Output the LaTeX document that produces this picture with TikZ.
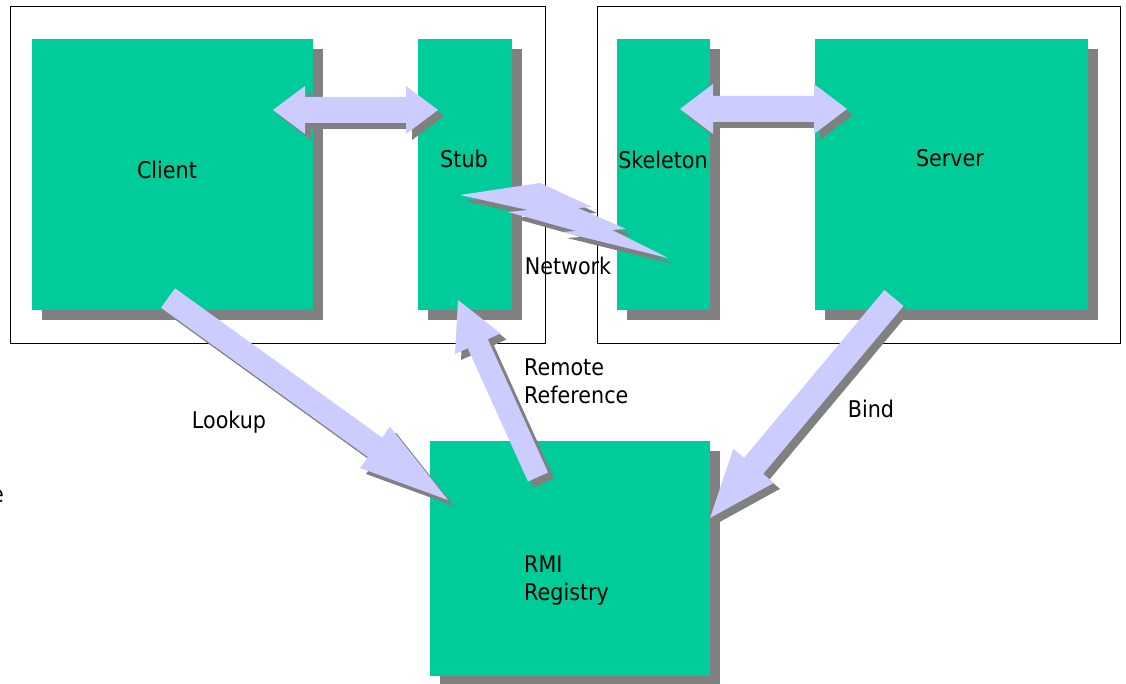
\documentclass[tikz,border=0pt]{standalone}
\usepackage{fontspec}
\setmainfont{DejaVu Sans}[FakeStretch=0.9]
\usetikzlibrary{calc,shadows}

\definecolor{boxgreen}{HTML}{00CC99}
\definecolor{arrowfill}{HTML}{CCCCFF}
\definecolor{shadegray}{HTML}{808080}

% single block arrow: #1 name, #2 tail, #3 tip, #4 shaft half width, #5 head half width, #6 head length
\newcommand\singlearrowpts[6]{%
  \coordinate (#1-h)  at ($(#3)!#6!(#2)$);
  \coordinate (#1-t1) at ($(#2)!#4!90:(#3)$);
  \coordinate (#1-t2) at ($(#2)!#4!-90:(#3)$);
  \coordinate (#1-s1) at ($(#1-h)!#4!90:(#3)$);
  \coordinate (#1-s2) at ($(#1-h)!#4!-90:(#3)$);
  \coordinate (#1-w1) at ($(#1-h)!#5!90:(#3)$);
  \coordinate (#1-w2) at ($(#1-h)!#5!-90:(#3)$);
}
\newcommand\singlearrowdraw[2]{% #1 name, #2 tip
  \begin{scope}[transform canvas={shift={(6pt,-6pt)}}]
    \fill[shadegray] (#1-t1) -- (#1-s1) -- (#1-w1) -- (#2) -- (#1-w2) -- (#1-s2) -- (#1-t2) -- cycle;
  \end{scope}
  \fill[arrowfill] (#1-t1) -- (#1-s1) -- (#1-w1) -- (#2) -- (#1-w2) -- (#1-s2) -- (#1-t2) -- cycle;
}
% double block arrow: #1 name, #2 end a, #3 end b, #4 shaft half width, #5 head half width, #6 head length
\newcommand\doublearrowpts[6]{%
  \coordinate (#1-ha) at ($(#2)!#6!(#3)$);
  \coordinate (#1-hb) at ($(#3)!#6!(#2)$);
  \coordinate (#1-a1) at ($(#1-ha)!#5!90:(#3)$);
  \coordinate (#1-a2) at ($(#1-ha)!#4!90:(#3)$);
  \coordinate (#1-a3) at ($(#1-ha)!#4!-90:(#3)$);
  \coordinate (#1-a4) at ($(#1-ha)!#5!-90:(#3)$);
  \coordinate (#1-b1) at ($(#1-hb)!#5!90:(#3)$);
  \coordinate (#1-b2) at ($(#1-hb)!#4!90:(#3)$);
  \coordinate (#1-b3) at ($(#1-hb)!#4!-90:(#3)$);
  \coordinate (#1-b4) at ($(#1-hb)!#5!-90:(#3)$);
}
\newcommand\doublearrowdraw[3]{% #1 name, #2 end a, #3 end b
  \begin{scope}[transform canvas={shift={(6pt,-6pt)}}]
    \fill[shadegray] (#2) -- (#1-a1) -- (#1-a2) -- (#1-b2) -- (#1-b1) -- (#3) -- (#1-b4) -- (#1-b3) -- (#1-a3) -- (#1-a4) -- cycle;
  \end{scope}
  \fill[arrowfill] (#2) -- (#1-a1) -- (#1-a2) -- (#1-b2) -- (#1-b1) -- (#3) -- (#1-b4) -- (#1-b3) -- (#1-a3) -- (#1-a4) -- cycle;
}

\tikzset{
  frame/.style={draw=black, line width=1pt, fill=none, inner sep=0pt},
  greenbox/.style={fill=boxgreen, inner sep=0pt,
    drop shadow={shadow xshift=10pt, shadow yshift=-10pt, fill=shadegray, opacity=1}},
  lbl/.style={inner sep=0pt, text=black, font=\fontsize{23}{28}\selectfont},
}

\begin{document}
\begin{tikzpicture}[x=1pt, y=-1pt]
\useasboundingbox (0,0) rectangle (1126,684);
\fill[white] (0,0) rectangle (1126,684);

% the two machines
\node[frame, minimum width=535pt, minimum height=336pt] (clientside) at (277.5,175) {};
\node[frame, minimum width=523pt, minimum height=336pt] (serverside) at (858.5,175) {};

% components
\node[greenbox, minimum width=281pt, minimum height=271pt] (client)   at (172.5,174.5) {};
\node[greenbox, minimum width=94pt,  minimum height=271pt] (stub)     at (465,174.5) {};
\node[greenbox, minimum width=93pt,  minimum height=271pt] (skeleton) at (663.5,174.5) {};
\node[greenbox, minimum width=273pt, minimum height=271pt] (server)   at (951.5,174.5) {};
\node[greenbox, minimum width=280pt, minimum height=235pt] (registry) at (570,558.5) {};

% arrow ends
\coordinate (cs-a) at (273,110);
\coordinate (cs-b) at (438,110);
\coordinate (ss-a) at (680,109);
\coordinate (ss-b) at (847,109);
\coordinate (lookup-tail) at (168,298);
\coordinate (lookup-tip)  at (448,500);
\coordinate (remote-tail) at (538,477);
\coordinate (remote-tip)  at (458,300);
\coordinate (bind-tail)   at (894,298);
\coordinate (bind-tip)    at (710,518);

\doublearrowpts{cs}{cs-a}{cs-b}{13pt}{24pt}{32pt}
\doublearrowpts{ss}{ss-a}{ss-b}{13pt}{25pt}{33pt}
\singlearrowpts{lookup}{lookup-tail}{lookup-tip}{12pt}{25.5pt}{90pt}
\singlearrowpts{remote}{remote-tail}{remote-tip}{11pt}{25pt}{48pt}
\singlearrowpts{bind}{bind-tail}{bind-tip}{12.5pt}{26.5pt}{68pt}

\doublearrowdraw{cs}{cs-a}{cs-b}
\doublearrowdraw{ss}{ss-a}{ss-b}
\singlearrowdraw{lookup}{lookup-tip}
\singlearrowdraw{remote}{remote-tip}
\singlearrowdraw{bind}{bind-tip}

% network bolt between stub and skeleton
\begin{scope}[transform canvas={shift={(5pt,-6pt)}}]
  \fill[shadegray] (460,195) -- (540,183) -- (592,207) -- (578,208) -- (626,229) -- (612,230)
    -- (668,258) -- (562,232) -- (576,231) -- (508,212) -- (528,210) -- cycle;
\end{scope}
\fill[arrowfill] (460,195) -- (540,183) -- (592,207) -- (578,208) -- (626,229) -- (612,230)
    -- (668,258) -- (562,232) -- (576,231) -- (508,212) -- (528,210) -- cycle;

% labels
\node[lbl, anchor=base] (clientlabel)   at (167,179) {Client};
\node[lbl, anchor=base] (stublabel)     at (464,168) {Stub};
\node[lbl, anchor=base] (skeletonlabel) at (663,169) {Skeleton};
\node[lbl, anchor=base] (serverlabel)   at (950,167) {Server};
\node[lbl, anchor=base] (networklabel)  at (568,275) {Network};
\node[lbl, anchor=base west] (remotelabel)    at (524,375) {Remote};
\node[lbl, anchor=base west] (referencelabel) at (524,403) {Reference};
\node[lbl, anchor=base] (lookuplabel)   at (229,428) {Lookup};
\node[lbl, anchor=base] (bindlabel)     at (871,417) {Bind};
\node[lbl, anchor=base west] (rmilabel)      at (524,572) {RMI};
\node[lbl, anchor=base west] (registrylabel) at (524,600) {Registry};
\node[lbl, anchor=base east] (edgechar) at (4,502) {e};
\end{tikzpicture}
\end{document}
